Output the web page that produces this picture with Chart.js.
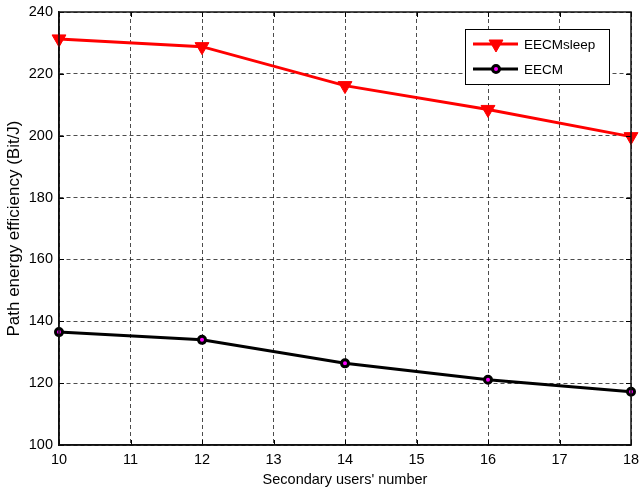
<!DOCTYPE html>
<html>
<head>
<meta charset="utf-8">
<script src="https://cdn.jsdelivr.net/npm/chart.js@4.4.1/dist/chart.umd.min.js"></script>
<style>
  html, body { margin: 0; padding: 0; background: #fff; }
  canvas { display: block; }
</style>
</head>
<body>
<canvas id="c" width="640" height="493"></canvas>
<script>
// ---- data ----
const usersNumber = [10, 12, 14, 16, 18];
const eecmSleep = [231.3, 228.8, 216.2, 208.5, 199.7];
const eecm = [136.5, 134.0, 126.4, 121.1, 117.2];
const seriesNames = ['EECMsleep', 'EECM'];
const xTitle = "Secondary users' number";
const yTitle = 'Path energy efficiency (Bit/J)';
const xRange = [10, 18];
const yRange = [100, 240];

const FONT = '"Liberation Sans", Arial, Helvetica, sans-serif';

const toPts = (ys) => usersNumber.map((x, i) => ({ x: x, y: ys[i] }));

const redStyle = { pointStyle: 'triangle', rotation: 180, radius: 8, borderWidth: 1, fill: '#ff0000', stroke: '#ff0000', line: '#ff0000', lineWidth: 3 };
const blkStyle = { pointStyle: 'circle', rotation: 0, radius: 3.5, borderWidth: 3, fill: '#ff00ff', stroke: '#000000', line: '#000000', lineWidth: 3 };

const boxPlugin = {
  id: 'boxPlugin',
  afterDraw(chart) {
    const ctx = chart.ctx;
    const a = chart.chartArea;
    const xs = chart.scales.x, ys = chart.scales.y;
    ctx.save();
    // inward ticks
    ctx.strokeStyle = '#000';
    ctx.lineWidth = 1;
    const tl = 5;
    xs.ticks.forEach(t => {
      const px = Math.round(xs.getPixelForValue(t.value)) + 0.5;
      ctx.beginPath();
      ctx.moveTo(px, a.bottom); ctx.lineTo(px, a.bottom - tl);
      ctx.moveTo(px, a.top); ctx.lineTo(px, a.top + tl);
      ctx.stroke();
    });
    ys.ticks.forEach(t => {
      const py = Math.round(ys.getPixelForValue(t.value)) + 0.5;
      ctx.beginPath();
      ctx.moveTo(a.left, py); ctx.lineTo(a.left + tl, py);
      ctx.moveTo(a.right, py); ctx.lineTo(a.right - tl, py);
      ctx.stroke();
    });
    // frame
    ctx.strokeStyle = '#111';
    ctx.lineWidth = 1.5;
    ctx.strokeRect(a.left, a.top, a.right - a.left, a.bottom - a.top);

    // legend
    const lx = 465, ly = 29, lw = 144, lh = 55;
    ctx.fillStyle = '#fff';
    ctx.fillRect(lx, ly, lw, lh);
    ctx.strokeStyle = '#000';
    ctx.lineWidth = 1;
    ctx.strokeRect(lx + 0.5, ly + 0.5, lw, lh);
    const entries = [[seriesNames[0], redStyle, 44], [seriesNames[1], blkStyle, 69]];
    entries.forEach(([name, st, y]) => {
      ctx.strokeStyle = st.line;
      ctx.lineWidth = st.lineWidth;
      ctx.beginPath();
      ctx.moveTo(473, y); ctx.lineTo(518, y);
      ctx.stroke();
      ctx.fillStyle = st.fill;
      ctx.strokeStyle = st.stroke;
      ctx.lineWidth = st.borderWidth;
      Chart.helpers.drawPoint(ctx, { pointStyle: st.pointStyle, rotation: st.rotation, radius: st.radius, borderWidth: st.borderWidth }, 496, y);
      ctx.fillStyle = '#000';
      ctx.font = '13.5px ' + FONT;
      ctx.textAlign = 'left';
      ctx.textBaseline = 'middle';
      ctx.fillText(name, 524, y + 1);
    });
    ctx.restore();
  }
};

new Chart(document.getElementById('c'), {
  type: 'line',
  data: {
    datasets: [
      {
        label: seriesNames[0],
        data: toPts(eecmSleep),
        borderColor: redStyle.line,
        borderWidth: redStyle.lineWidth,
        backgroundColor: redStyle.fill,
        pointStyle: redStyle.pointStyle,
        pointRotation: redStyle.rotation,
        pointRadius: redStyle.radius,
        pointBorderWidth: redStyle.borderWidth,
        pointBackgroundColor: redStyle.fill,
        pointBorderColor: redStyle.stroke,
        tension: 0,
        fill: false,
        clip: false
      },
      {
        label: seriesNames[1],
        data: toPts(eecm),
        borderColor: blkStyle.line,
        borderWidth: blkStyle.lineWidth,
        backgroundColor: blkStyle.fill,
        pointStyle: blkStyle.pointStyle,
        pointRadius: blkStyle.radius,
        pointBorderWidth: blkStyle.borderWidth,
        pointBackgroundColor: blkStyle.fill,
        pointBorderColor: blkStyle.stroke,
        tension: 0,
        fill: false,
        clip: false
      }
    ]
  },
  options: {
    responsive: false,
    animation: false,
    devicePixelRatio: 1,
    layout: { padding: { left: 0, top: 12, right: 9, bottom: 0 } },
    plugins: {
      legend: { display: false },
      tooltip: { enabled: false }
    },
    scales: {
      x: {
        type: 'linear',
        min: xRange[0], max: xRange[1],
        afterFit(s) { s.height = 48; s.paddingLeft = 0; s.paddingRight = 0; },
        ticks: { stepSize: 1, color: '#000', font: { family: FONT, size: 14.5 }, padding: 6, maxRotation: 0 },
        grid: { color: 'rgba(0,0,0,0.7)', lineWidth: 1, drawTicks: false },
        border: { display: true, color: '#111', width: 1.5, dash: [4, 3] },
        title: { display: true, text: xTitle, color: '#000', font: { family: FONT, size: 14.5 }, padding: { top: 0, bottom: 4 } }
      },
      y: {
        type: 'linear',
        min: yRange[0], max: yRange[1],
        afterFit(s) { s.width = 59; s.paddingTop = 0; s.paddingBottom = 0; },
        ticks: { stepSize: 20, color: '#000', font: { family: FONT, size: 14.5 }, padding: 6 },
        grid: { color: 'rgba(0,0,0,0.7)', lineWidth: 1, drawTicks: false },
        border: { display: true, color: '#111', width: 1.5, dash: [4, 3] },
        title: { display: true, text: yTitle, color: '#000', font: { family: FONT, size: 17 }, padding: { top: 4, bottom: 0 } }
      }
    }
  },
  plugins: [boxPlugin]
});
</script>
</body>
</html>
